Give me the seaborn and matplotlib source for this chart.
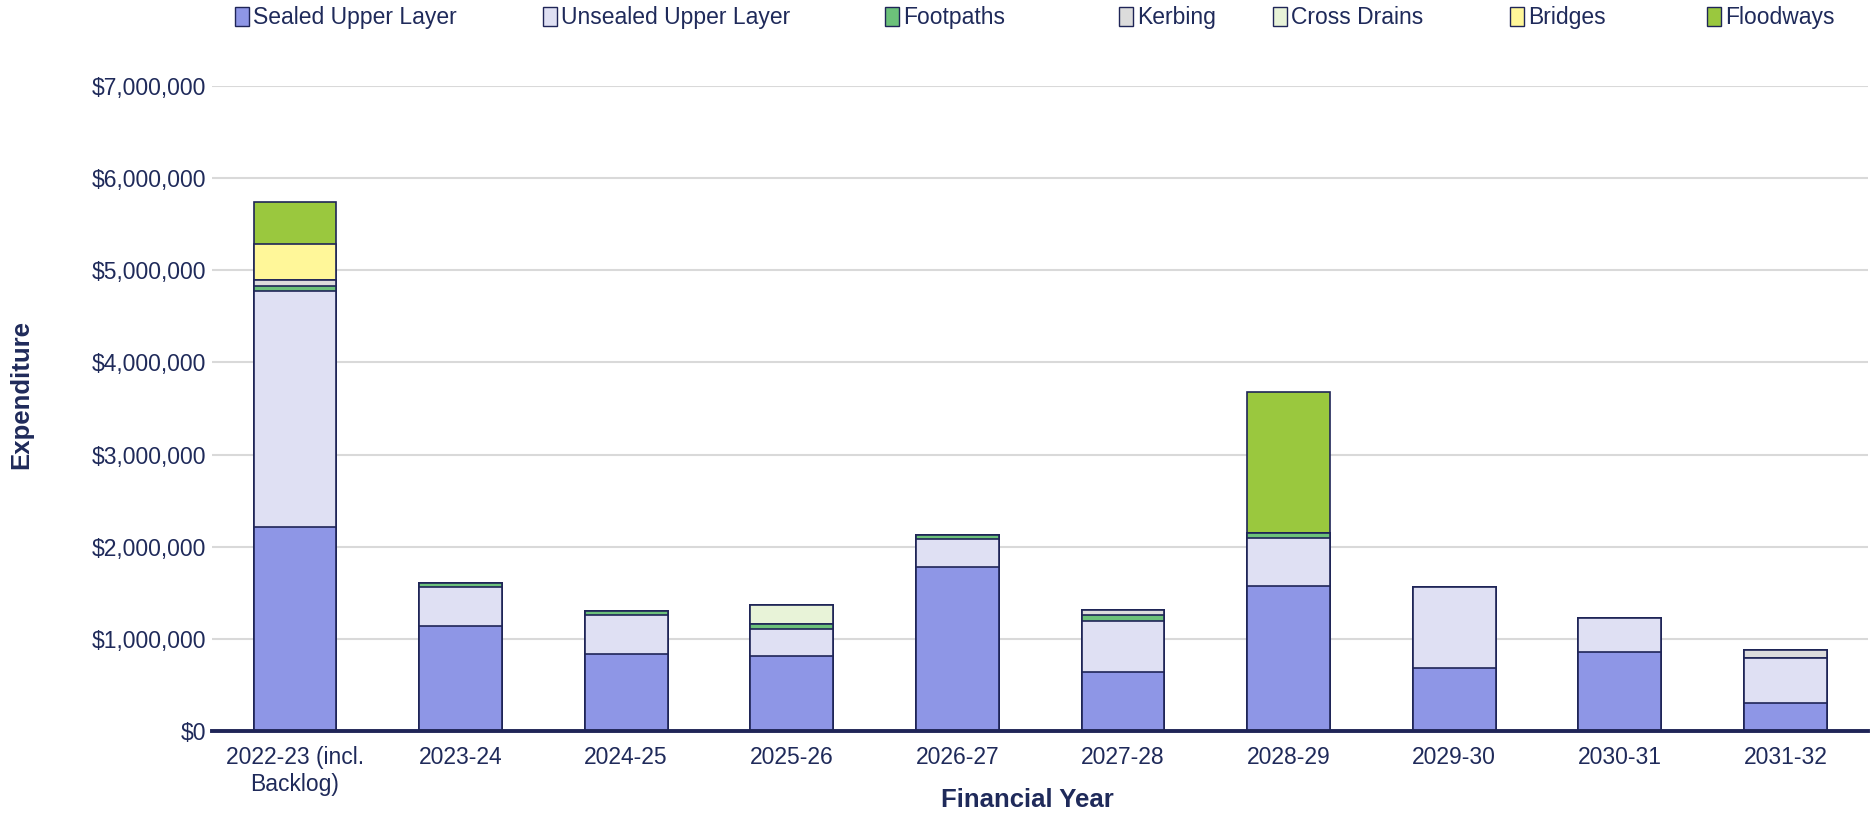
import numpy as np
import pandas as pd
import matplotlib
matplotlib.use('Agg')
import matplotlib.pyplot as plt
import matplotlib.ticker as mticker
from matplotlib.patches import Patch
import seaborn as sns

years = ['2022-23 (incl.\nBacklog)', '2023-24', '2024-25', '2025-26', '2026-27',
         '2027-28', '2028-29', '2029-30', '2030-31', '2031-32']
sealed = [2210000, 1140000, 840000, 820000, 1780000, 645000, 1580000, 690000, 860000, 310000]
unsealed = [2570000, 420000, 415000, 290000, 310000, 555000, 520000, 870000, 365000, 485000]
footpaths = [50000, 50000, 45000, 55000, 40000, 55000, 50000, 0, 0, 0]
kerbing = [70000, 0, 0, 0, 0, 55000, 0, 0, 0, 85000]
cross_drains = [0, 0, 0, 200000, 0, 0, 0, 0, 0, 0]
bridges = [390000, 0, 0, 0, 0, 0, 0, 0, 0, 0]
floodways = [450000, 0, 0, 0, 0, 0, 1530000, 0, 0, 0]

series = ['Sealed Upper Layer', 'Unsealed Upper Layer', 'Footpaths', 'Kerbing',
          'Cross Drains', 'Bridges', 'Floodways']
values = [sealed, unsealed, footpaths, kerbing, cross_drains, bridges, floodways]
colors = ['#8E96E6', '#DFE0F3', '#6CC17A', '#DCDCDC', '#E8F3D8', '#FFF799', '#9AC83E']

navy = '#1F2557'
text_col = '#1F2A5A'

sns.set_style('white')
plt.rcParams['font.family'] = ['Liberation Sans', 'DejaVu Sans']

fig = plt.figure(figsize=(18.72, 8.16), dpi=100)
ax = fig.add_axes([0.1133, 0.104, 0.8847, 0.7906])

# stacked bars: draw cumulative totals from the top layer down
cum = np.cumsum(np.array(values, dtype=float), axis=0)
for i in range(len(series) - 1, -1, -1):
    df = pd.DataFrame({'Year': years, 'Value': cum[i]})
    sns.barplot(data=df, x='Year', y='Value', order=years, color=colors[i],
                saturation=1, width=0.5, edgecolor=navy, linewidth=1.2, ax=ax)

ax.set_xlim(-0.5, len(years) - 0.5)
ax.set_ylim(0, 7000000)
ax.yaxis.set_major_locator(mticker.MultipleLocator(1000000))
ax.yaxis.set_major_formatter(mticker.FuncFormatter(lambda v, p: '${:,.0f}'.format(v)))
ax.grid(axis='y', color='#D9D9D9', linewidth=1.5)
ax.set_axisbelow(True)

for s in ['left', 'right', 'top']:
    ax.spines[s].set_visible(False)
ax.spines['bottom'].set_color(navy)
ax.spines['bottom'].set_linewidth(2.8)

ax.tick_params(axis='y', length=0, pad=4, labelsize=16.5, labelcolor=text_col)
ax.tick_params(axis='x', which='major', length=0, pad=11, labelsize=16.5, labelcolor=text_col)
ax.set_xticks(np.arange(-0.5, len(years)), minor=True)
ax.tick_params(axis='x', which='minor', length=7, width=2.5, color=navy)

ax.set_xlabel('')
ax.set_ylabel('')
fig.text(0.5486, 0.0196, 'Financial Year', fontsize=18.5, fontweight='bold',
         color=text_col, ha='center', va='center')
fig.text(0.0112, 0.516, 'Expenditure', fontsize=18.5, fontweight='bold',
         color=text_col, ha='center', va='center', rotation=90)

# legend entries placed one by one, as spaced in the original
legend_x = [235, 543, 885, 1119, 1273, 1510, 1707]
for name, c, lx in zip(series, colors, legend_x):
    h = Patch(facecolor=c, edgecolor=navy, linewidth=1)
    fig.legend([h], [name], loc='center left', bbox_to_anchor=(lx / 1872, 0.978),
               frameon=False, fontsize=16.5, labelcolor=text_col, handlelength=0.6,
               handleheight=0.9, handletextpad=0.2, borderpad=0, borderaxespad=0)

fig.savefig('out.png', dpi=100)
